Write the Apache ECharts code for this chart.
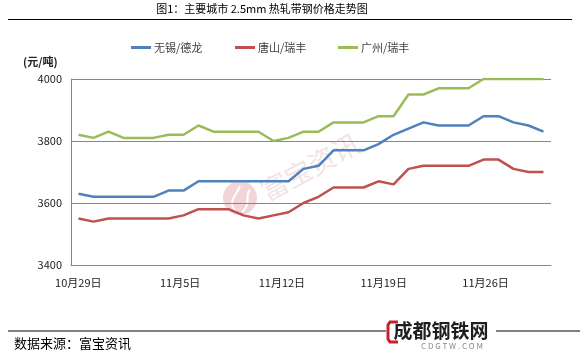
<!DOCTYPE html>
<html>
<head>
<meta charset="utf-8">
<script src="https://cdn.jsdelivr.net/npm/echarts@6/dist/echarts.min.js"></script>
<style>
html, body { margin: 0; padding: 0; background: #fff; }
#chart { width: 580px; height: 354px; }
</style>
</head>
<body>
<div id="chart"></div>
<script>
// 日期轴标签（每7天显示一个）
let dates = ['10月29日','10月30日','10月31日','11月1日','11月2日','11月3日','11月4日',
    '11月5日','11月6日','11月7日','11月8日','11月9日','11月10日','11月11日',
    '11月12日','11月13日','11月14日','11月15日','11月16日','11月17日','11月18日',
    '11月19日','11月20日','11月21日','11月22日','11月23日','11月24日','11月25日',
    '11月26日','11月27日','11月28日','11月29日','11月30日'];
let points = dates.slice(0, 32);             // 数据点
let names = ['无锡/德龙', '唐山/瑞丰', '广州/瑞丰'];
let wuxi = [3630,3620,3620,3620,3620,3620,3640,3640,3670,3670,3670,3670,3670,3670,3670,3710,
    3720,3770,3770,3770,3790,3820,3840,3860,3850,3850,3850,3880,3880,3860,3850,3830];
let tangshan = [3550,3540,3550,3550,3550,3550,3550,3560,3580,3580,3580,3560,3550,3560,3570,3600,
    3620,3650,3650,3650,3670,3660,3710,3720,3720,3720,3720,3740,3740,3710,3700,3700];
let guangzhou = [3820,3810,3830,3810,3810,3810,3820,3820,3850,3830,3830,3830,3830,3800,3810,3830,
    3830,3860,3860,3860,3880,3880,3950,3950,3970,3970,3970,4000,4000,4000,4000,4000];
let colors = ['#4f81bd', '#c0504d', '#9bbb59'];
let font = '"Noto Sans CJK SC", sans-serif';
let gray = '#868686';

let chart = echarts.init(document.getElementById('chart'));
let legendX = [126, 230, 333];
chart.setOption({
    animation: false,
    textStyle: { fontFamily: font },
    grid: { left: 71, top: 79, width: 480, height: 186, containLabel: false, outerBoundsMode: 'none' },
    legend: names.map((n, i) => ({
        data: [n],
        left: legendX[i],
        top: 37,
        icon: 'rect',
        itemWidth: 20,
        itemHeight: 3,
        itemGap: 4,
        textStyle: { fontSize: 11, color: '#404040', fontFamily: font, padding: [0, 0, 0, -2] }
    })),
    xAxis: [
        {
            type: 'category',
            data: points,
            boundaryGap: true,
            show: false
        },
        {
            type: 'category',
            data: dates,
            position: 'bottom',
            boundaryGap: true,
            axisLine: { lineStyle: { color: gray } },
            axisTick: { inside: true, length: 4, interval: 6, lineStyle: { color: gray } },
            axisLabel: { interval: 6, fontSize: 11, color: '#222', margin: 12, fontFamily: font },
            splitLine: { show: false }
        }
    ],
    yAxis: {
        type: 'value',
        min: 3400,
        max: 4000,
        interval: 200,
        axisLine: { show: true, lineStyle: { color: gray } },
        axisTick: { show: false },
        splitLine: { lineStyle: { color: gray, width: 1 } },
        axisLabel: { fontSize: 11, color: '#222', margin: 9, fontFamily: font, formatter: (v) => String(v) }
    },
    series: [wuxi, tangshan, guangzhou].map((d, i) => ({
        name: names[i],
        type: 'line',
        xAxisIndex: 0,
        data: d,
        symbol: 'none',
        color: colors[i],
        lineStyle: { width: 2.5, color: colors[i] },
        z: 3
    })),
    graphic: [
        { type: 'text', x: 262, y: 9, style: { text: '图1：主要城市 2.5mm 热轧带钢价格走势图', font: '11px ' + font, fill: '#000', textAlign: 'center', textVerticalAlign: 'middle' } },
        { type: 'line', shape: { x1: 8, y1: 19.5, x2: 572, y2: 19.5 }, style: { stroke: '#000', lineWidth: 1 } },
        { type: 'text', x: 23, y: 62, style: { text: '(元/吨)', font: 'bold 11px ' + font, fill: '#222', textVerticalAlign: 'middle' } },
        // 水印
        { type: 'circle', shape: { cx: 240, cy: 198, r: 17 }, style: { fill: '#f2d6d6' }, z: 0 },
        { type: 'bezierCurve', shape: { x1: 236, y1: 212, cpx1: 226, cpy1: 200, cpx2: 238, cpy2: 194, x2: 240, y2: 186 }, style: { stroke: '#fff', fill: null, lineWidth: 2 }, z: 0 },
        { type: 'bezierCurve', shape: { x1: 242, y1: 212, cpx1: 252, cpy1: 204, cpx2: 244, cpy2: 196, x2: 250, y2: 190 }, style: { stroke: '#fff', fill: null, lineWidth: 2 }, z: 0 },
        { type: 'text', x: 310, y: 167, rotation: 0.5, style: { text: '富宝资讯', font: '27px ' + font, fill: 'rgba(215,160,160,0.3)', textAlign: 'center', textVerticalAlign: 'middle' }, z: 0 },
        // 底部
        { type: 'line', shape: { x1: 8, y1: 331, x2: 580, y2: 331 }, style: { stroke: '#000', lineWidth: 1 } },
        { type: 'text', x: 14, y: 343, style: { text: '数据来源：富宝资讯', font: '13px ' + font, fill: '#000', textVerticalAlign: 'middle' } },
        { type: 'rect', shape: { x: 386, y: 320, width: 110, height: 26 }, style: { fill: '#fff' } },
        { type: 'polyline', shape: { points: [[398, 322], [390, 322], [388, 325], [388, 339], [390, 342], [398, 342]] }, style: { stroke: '#c8202a', fill: null, lineWidth: 3 } },
        { type: 'text', x: 441, y: 331, style: { text: '成都钢铁网', font: 'bold 19px ' + font, fill: '#1e1e1e', textAlign: 'center', textVerticalAlign: 'middle' } },
        { type: 'text', x: 452, y: 346, style: { text: 'C D G T W . C O M', font: '8px ' + font, fill: '#8a8a8a', textAlign: 'center', textVerticalAlign: 'middle' } }
    ]
});
</script>
</body>
</html>
